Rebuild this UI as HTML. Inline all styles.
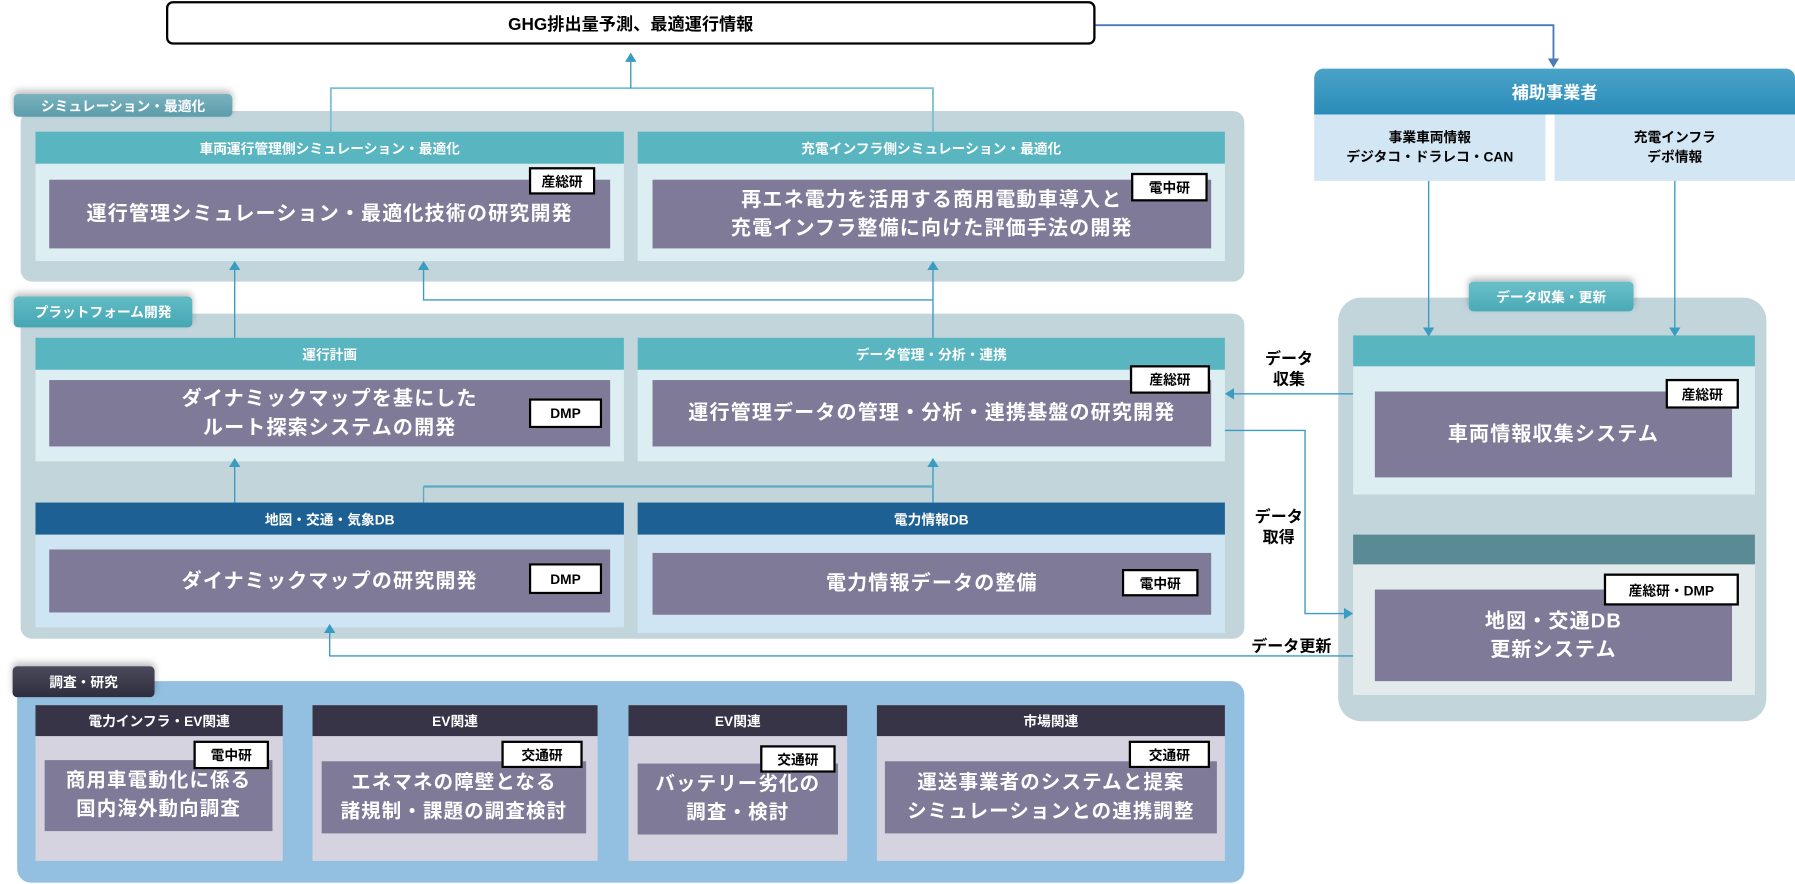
<!DOCTYPE html>
<html><head><meta charset="utf-8"><style>
*{margin:0;padding:0;box-sizing:border-box}
body{width:1795px;height:884px;overflow:hidden;background:#fff;font-family:"Liberation Sans","Noto Sans CJK JP",sans-serif}
#w{position:absolute;left:0;top:0;width:1568px;height:772px;transform:scale(1.14477);transform-origin:0 0}
.a{position:absolute}
.c{display:flex;align-items:center;justify-content:center;text-align:center}
.bg{background:#c1d5db;border-radius:10px}
.tab{color:#fff;font-size:12px;font-weight:bold;border-radius:4px;box-shadow:0 -3px 6px rgba(0,0,0,.25)}
.hd{color:#fff;font-size:12px;font-weight:bold}
.pu{background:#7e7a98;color:#fff;font-size:17.5px;font-weight:bold;line-height:1.45;letter-spacing:1px}
.tg{background:#fff;border:2px solid #000;font-size:12px;font-weight:bold;color:#000;letter-spacing:0}
.sv{font-size:17px;letter-spacing:1px}
</style></head><body><div id="w">
<div class="a c" style="left:145px;top:1px;width:812px;height:38px;border:2px solid #000;border-radius:6px;font-size:15px;font-weight:bold">GHG排出量予測、最適運行情報</div>

<div class="a c" style="left:1148px;top:60px;width:420px;height:40px;background:linear-gradient(#4aa2c8,#2a8cb8);border-radius:8px 8px 0 0;color:#fff;font-size:15px;font-weight:bold">補助事業者</div>
<div class="a c" style="left:1148px;top:100px;width:202px;height:58px;background:#d3e6f3;font-size:12px;font-weight:bold;line-height:1.4">事業車両情報<br>デジタコ・ドラレコ・CAN</div>
<div class="a c" style="left:1358px;top:100px;width:210px;height:58px;background:#d3e6f3;font-size:12px;font-weight:bold;line-height:1.4">充電インフラ<br>デポ情報</div>

<div class="a bg" style="left:18px;top:97px;width:1069px;height:149px"></div>
<div class="a c tab" style="left:12px;top:82px;width:191px;height:20px;background:linear-gradient(#7ab2be,#5c9cab)">シミュレーション・最適化</div>
<div class="a" style="left:31px;top:115px;width:514px;height:113px;background:#ddeef2"></div>
<div class="a c hd" style="left:31px;top:115px;width:514px;height:28px;background:#59b5c0">車両運行管理側シミュレーション・最適化</div>
<div class="a c pu" style="left:43px;top:157px;width:490px;height:60px">運行管理シミュレーション・最適化技術の研究開発</div>
<div class="a c tg" style="left:462px;top:146px;width:58px;height:24px">産総研</div>
<div class="a" style="left:557px;top:115px;width:513px;height:113px;background:#ddeef2"></div>
<div class="a c hd" style="left:557px;top:115px;width:513px;height:28px;background:#59b5c0">充電インフラ側シミュレーション・最適化</div>
<div class="a c pu" style="left:570px;top:157px;width:488px;height:60px">再エネ電力を活用する商用電動車導入と<br>充電インフラ整備に向けた評価手法の開発</div>
<div class="a c tg" style="left:988px;top:151px;width:67px;height:25px">電中研</div>

<div class="a bg" style="left:18px;top:274px;width:1069px;height:284px"></div>
<div class="a c tab" style="left:12px;top:259px;width:156px;height:27px;background:linear-gradient(#62bcc6,#45a7b3)">プラットフォーム開発</div>
<div class="a" style="left:31px;top:295px;width:514px;height:108px;background:#ddeef2"></div>
<div class="a c hd" style="left:31px;top:295px;width:514px;height:28px;background:#59b5c0">運行計画</div>
<div class="a c pu" style="left:43px;top:332px;width:490px;height:58px">ダイナミックマップを基にした<br>ルート探索システムの開発</div>
<div class="a c tg" style="left:462px;top:348px;width:64px;height:26px">DMP</div>
<div class="a" style="left:557px;top:295px;width:513px;height:108px;background:#ddeef2"></div>
<div class="a c hd" style="left:557px;top:295px;width:513px;height:28px;background:#59b5c0">データ管理・分析・連携</div>
<div class="a c pu" style="left:570px;top:332px;width:488px;height:58px">運行管理データの管理・分析・連携基盤の研究開発</div>
<div class="a c tg" style="left:987px;top:319px;width:70px;height:25px">産総研</div>
<div class="a" style="left:31px;top:439px;width:514px;height:109px;background:#d0e5f3"></div>
<div class="a c hd" style="left:31px;top:439px;width:514px;height:28px;background:#1d6194">地図・交通・気象DB</div>
<div class="a c pu" style="left:43px;top:480px;width:490px;height:55px">ダイナミックマップの研究開発</div>
<div class="a c tg" style="left:462px;top:492px;width:64px;height:27px">DMP</div>
<div class="a" style="left:557px;top:439px;width:513px;height:114px;background:#d0e5f3"></div>
<div class="a c hd" style="left:557px;top:439px;width:513px;height:28px;background:#1d6194">電力情報DB</div>
<div class="a c pu" style="left:570px;top:483px;width:488px;height:54px">電力情報データの整備</div>
<div class="a c tg" style="left:980px;top:497px;width:67px;height:24px">電中研</div>

<div class="a bg" style="left:1169px;top:260px;width:374px;height:370px;border-radius:20px"></div>
<div class="a c tab" style="left:1283px;top:246px;width:144px;height:26px;background:linear-gradient(#6ac0ca,#4aaab6)">データ収集・更新</div>
<div class="a" style="left:1182px;top:293px;width:351px;height:139px;background:#ddeef2"></div>
<div class="a" style="left:1182px;top:293px;width:351px;height:27px;background:#59b5c0"></div>
<div class="a c pu" style="left:1201px;top:342px;width:312px;height:75px">車両情報収集システム</div>
<div class="a c tg" style="left:1455px;top:331px;width:64px;height:26px">産総研</div>
<div class="a" style="left:1182px;top:467px;width:351px;height:140px;background:#e2eaec"></div>
<div class="a" style="left:1182px;top:467px;width:351px;height:26px;background:#5a8a94"></div>
<div class="a c pu" style="left:1201px;top:515px;width:312px;height:80px">地図・交通DB<br>更新システム</div>
<div class="a c tg" style="left:1401px;top:501px;width:118px;height:28px">産総研・DMP</div>

<div class="a c" style="left:1098px;top:304px;width:56px;height:36px;font-size:14px;font-weight:bold;line-height:1.3">データ<br>収集</div>
<div class="a c" style="left:1090px;top:442px;width:54px;height:36px;font-size:14px;font-weight:bold;line-height:1.3">データ<br>取得</div>
<div class="a c" style="left:1088px;top:555px;width:80px;height:18px;font-size:14px;font-weight:bold">データ更新</div>

<div class="a" style="left:15px;top:595px;width:1072px;height:176px;background:#93c0e0;border-radius:12px"></div>
<div class="a c tab" style="left:11px;top:582px;width:124px;height:27px;background:linear-gradient(#4a4a5c,#2e2e3e)">調査・研究</div>

<div class="a" style="left:31px;top:616px;width:216px;height:136px;background:#d5d3df"></div>
<div class="a c hd" style="left:31px;top:616px;width:216px;height:27px;background:#373447">電力インフラ・EV関連</div>
<div class="a c pu sv" style="left:39px;top:664px;width:199px;height:62px">商用車電動化に係る<br>国内海外動向調査</div>
<div class="a c tg" style="left:169px;top:647px;width:66px;height:25px">電中研</div>

<div class="a" style="left:273px;top:616px;width:249px;height:136px;background:#d5d3df"></div>
<div class="a c hd" style="left:273px;top:616px;width:249px;height:27px;background:#373447">EV関連</div>
<div class="a c pu sv" style="left:281px;top:665px;width:231px;height:63px">エネマネの障壁となる<br>諸規制・課題の調査検討</div>
<div class="a c tg" style="left:438px;top:647px;width:71px;height:24px">交通研</div>

<div class="a" style="left:549px;top:616px;width:191px;height:136px;background:#d5d3df"></div>
<div class="a c hd" style="left:549px;top:616px;width:191px;height:27px;background:#373447">EV関連</div>
<div class="a c pu sv" style="left:557px;top:667px;width:175px;height:62px">バッテリー劣化の<br>調査・検討</div>
<div class="a c tg" style="left:664px;top:651px;width:66px;height:24px">交通研</div>

<div class="a" style="left:766px;top:616px;width:304px;height:136px;background:#d5d3df"></div>
<div class="a c hd" style="left:766px;top:616px;width:304px;height:27px;background:#373447">市場関連</div>
<div class="a c pu sv" style="left:773px;top:665px;width:290px;height:63px">運送事業者のシステムと提案<br>シミュレーションとの連携調整</div>
<div class="a c tg" style="left:986px;top:647px;width:71px;height:24px">交通研</div>

<svg class="a" style="left:0;top:0" width="1568" height="772">
<defs>
<marker id="m" markerWidth="8" markerHeight="10" refX="7" refY="5" orient="auto" markerUnits="userSpaceOnUse"><path d="M0,0L8,5L0,10z" fill="#3a9cc0"/></marker>
<marker id="mb" markerWidth="8" markerHeight="10" refX="7" refY="5" orient="auto" markerUnits="userSpaceOnUse"><path d="M0,0L8,5L0,10z" fill="#4a7ab8"/></marker>
</defs>
<g fill="none" stroke-width="1.2">
<path d="M957,22H1357V58" stroke="#4a7ab8" stroke-width="1.6" marker-end="url(#mb)"/>
<path d="M1248,158V293" stroke="#3a9cc0" marker-end="url(#m)"/>
<path d="M1463,158V293" stroke="#3a9cc0" marker-end="url(#m)"/>
<path d="M289,115V77H815V115" stroke="#7cc0d2" stroke-width="1.6"/>
<path d="M551,77V47" stroke="#3a9cc0" marker-end="url(#m)"/>
<path d="M205,295V229" stroke="#3a9cc0" marker-end="url(#m)"/>
<path d="M815,295V229" stroke="#3a9cc0" marker-end="url(#m)"/>
<path d="M815,262H370V229" stroke="#3a9cc0" marker-end="url(#m)"/>
<path d="M205,439V401" stroke="#3a9cc0" marker-end="url(#m)"/>
<path d="M815,439V401" stroke="#3a9cc0" marker-end="url(#m)"/>
<path d="M370,425H815" stroke="#5aaac2" stroke-width="2"/>
<path d="M370,425V439" stroke="#5aaac2" stroke-width="1.2"/>
<path d="M1182,344H1071" stroke="#3a9cc0" marker-end="url(#m)"/>
<path d="M1070,376H1140V536H1181" stroke="#3a9cc0" marker-end="url(#m)"/>
<path d="M1182,573H288V546" stroke="#3a9cc0" marker-end="url(#m)"/>
</g></svg>
</div></body></html>
